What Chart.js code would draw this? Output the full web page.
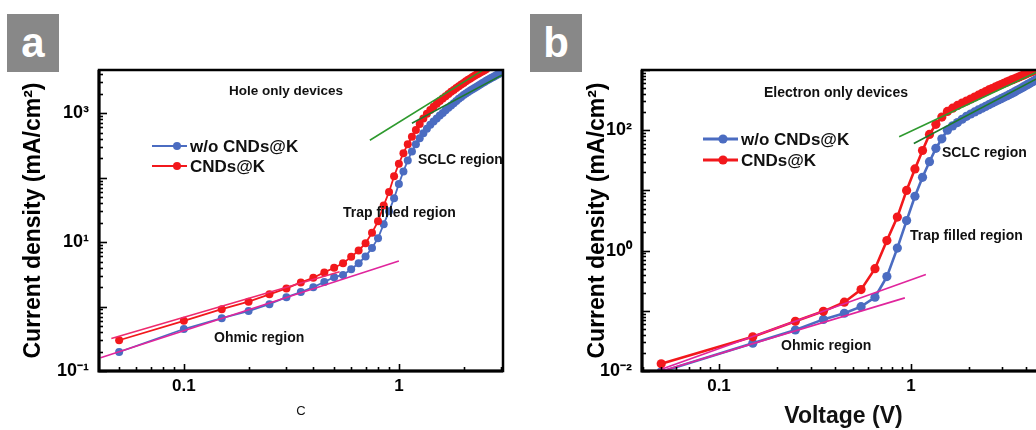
<!DOCTYPE html>
<html><head><meta charset="utf-8">
<script src="https://cdn.jsdelivr.net/npm/chart.js@4.4.1/dist/chart.umd.min.js"></script>
<style>
html,body{margin:0;padding:0;background:#fff;overflow:hidden;width:1036px;height:430px;position:relative;}
#wrapA{position:absolute;left:0;top:0;width:516px;height:430px;}
#wrapB{position:absolute;left:516px;top:0;width:520px;height:430px;overflow:hidden;}
.tag{position:absolute;top:14px;width:52px;height:58px;background:#888888;color:#fff;font:bold 42px "Liberation Sans",Arial,sans-serif;display:flex;align-items:center;justify-content:center;line-height:1;z-index:2;}
</style></head>
<body>
<div id="wrapA"><canvas id="ca" width="516" height="430"></canvas></div>
<div id="wrapB"><canvas id="cb" width="544" height="430"></canvas></div>
<div class="tag" style="left:7px;">a</div>
<div class="tag" style="left:530px;">b</div>
<script>
// ---------- Panel a : Hole only devices ----------
const voltsA = [0.05,0.10,0.15,0.20,0.25,0.30,0.35,0.40,0.45,0.50,0.55,0.60,0.65,0.70,0.75,0.80,0.85,0.90,0.95,1.00,
  1.05,1.10,1.15,1.20,1.25,1.30,1.35,1.40,1.45,1.50,1.55,1.60,1.65,1.70,1.75,1.80,1.85,1.90,1.95,2.00,
  2.05,2.10,2.15,2.20,2.25,2.30,2.35,2.40,2.45,2.50,2.55,2.60,2.65,2.70,2.75,2.80,2.85,2.90,2.95,3.00];
const woA = [0.197,0.448,0.66,0.85,1.09,1.40,1.68,2.0,2.4,2.86,3.1,3.8,4.7,6.0,8.1,11.5,19,30,48,80,
  125,185,255,330,410,490,575,660,745,830,920,1010,1110,1210,1320,1430,1550,1670,1790,1920,
  2030,2140,2250,2360,2470,2580,2700,2820,2940,3060,3180,3300,3420,3540,3660,3780,3900,4020,4140,4260];
const kA = [0.30,0.60,0.91,1.19,1.55,1.91,2.37,2.80,3.39,4.0,4.7,5.9,7.4,9.6,14,21,37,60,105,165,
  240,330,430,550,680,830,980,1120,1260,1400,1540,1690,1840,1990,2150,2300,2460,2620,2790,2950,
  3120,3290,3460,3630,3800,3970,4140,4310,4480,4650,4830];
const ohmWoA_x = [0.041, 1.0],  ohmWoA_y = [0.16, 5.1];
const ohmKA_x  = [0.046, 0.53], ohmKA_y  = [0.32, 3.47];
const sclcKA_x = [0.733, 2.46], sclcKA_y = [380, 4650];
const sclcWoA_x= [1.15, 3.01],  sclcWoA_y= [700, 3900];
const xTickValsA = [0.1, 1], xTickLabA = ['0.1', '1'];
const yTickValsA = [0.1, 1, 10, 100, 1000], yTickLabA = ['10\u207B\u00B9', '', '10\u00B9', '', '10\u00B3'];

// ---------- Panel b : Electron only devices ----------
const voltsB = [0.05,0.15,0.25,0.35,0.45,0.55,0.65,0.75,0.85,0.95,1.05,1.15,1.25,1.35,1.45,1.55,1.65,1.75,1.85,1.95,
  2.05,2.15,2.25,2.35,2.45,2.55,2.65,2.75,2.85,2.95,3.05,3.15,3.25,3.35,3.45,3.55,3.65,3.75,3.85,3.95,
  4.05,4.15,4.25,4.35,4.45,4.55,4.65,4.75,4.85,4.95];
const woB = [0.0097,0.029,0.048,0.072,0.091,0.117,0.168,0.37,1.1,3.15,8,16.5,30,50,72,100,118,134,152,170,
  186,201,217,232,248,265,282,299,316,334,352,370,389,408,428,451,474,497,521,546,
  571,597,623,650,677,704,732,760,788,817];
const kB = [0.0132,0.037,0.067,0.098,0.139,0.225,0.50,1.47,3.6,10,22.7,46,85,125,165,205,232,258,283,305,
  330,356,382,410,437,466,493,519,545,572,600,627,655,683,708,736,764,792,821,850,
  879,909,938,968,998,1028,1058,1088,1118,1150];
const ohmKB_x  = [0.0464, 1.197], ohmKB_y  = [0.0098, 0.40];
const ohmWoB_x = [0.0464, 0.93],  ohmWoB_y = [0.0092, 0.164];
const sclcKB_x = [0.869, 5.0],    sclcKB_y = [78, 1070];
const sclcWoB_x= [1.036, 5.0],    sclcWoB_y= [60, 844];
const xTickValsB = [0.1, 1], xTickLabB = ['0.1', '1'];
const yTickValsB = [0.01, 0.1, 1, 10, 100], yTickLabB = ['10\u207B\u00B2', '', '10\u2070', '', '10\u00B2'];

const BLUE = '#4b6cc1', RED = '#f2181c', MAG = '#e0259c', MAG2 = '#ee2a6e', GRN1 = '#2e9a2e', GRN2 = '#1d7a2a';
const FONT = '"Liberation Sans", Arial, Helvetica, sans-serif';
Chart.defaults.font.family = FONT;
Chart.defaults.color = '#000';

const pts = (xs, ys) => ys.map((y, i) => ({x: xs[i], y: y}));

function logTicks(min, max) {
  const out = [];
  for (let k = Math.floor(Math.log10(min)) - 1; k <= Math.ceil(Math.log10(max)); k++) {
    for (let n = 1; n <= 9; n++) {
      const v = Number((n * Math.pow(10, k)).toPrecision(6));
      if (v >= min * 0.9999 && v <= max * 1.0001) out.push({v, major: n === 1});
    }
  }
  return out;
}

const framePlugin = {
  id: 'frame',
  afterDraw(chart, args, o) {
    const {ctx, chartArea: a, scales: {x, y}} = chart;
    ctx.save();
    ctx.save();
    ctx.beginPath(); ctx.rect(a.left, a.top, a.right - a.left, a.bottom - a.top); ctx.clip();
    ctx.fillStyle = '#111';
    ctx.textBaseline = 'middle';
    (o.texts || []).forEach(t => {
      ctx.font = 'bold ' + t.size + 'px ' + FONT;
      ctx.textAlign = t.align || 'left';
      ctx.fillText(t.text, t.x, t.y);
    });
    (o.legend || []).forEach(l => {
      ctx.strokeStyle = l.color; ctx.lineWidth = l.lw;
      ctx.beginPath(); ctx.moveTo(l.x0, l.y); ctx.lineTo(l.x1, l.y); ctx.stroke();
      ctx.fillStyle = l.color;
      ctx.beginPath(); ctx.arc(l.xm, l.y, l.r, 0, Math.PI * 2); ctx.fill();
      ctx.fillStyle = '#111';
      ctx.font = 'bold 17px ' + FONT;
      ctx.textAlign = 'left';
      ctx.fillText(l.label, l.x1 + 3, l.y + 1);
    });
    ctx.restore();
    ctx.strokeStyle = '#000'; ctx.lineWidth = 1.6;
    logTicks(x.min, x.max).forEach(t => {
      const p = Math.round(x.getPixelForValue(t.v)) + 0.5;
      ctx.beginPath(); ctx.moveTo(p, a.bottom); ctx.lineTo(p, a.bottom - (t.major ? 7 : 4)); ctx.stroke();
    });
    logTicks(y.min, y.max).forEach(t => {
      const p = Math.round(y.getPixelForValue(t.v)) + 0.5;
      ctx.beginPath(); ctx.moveTo(a.left, p); ctx.lineTo(a.left + (t.major ? 8 : 4), p); ctx.stroke();
    });
    ctx.lineWidth = 2.5;
    ctx.strokeRect(a.left, a.top, a.right - a.left, a.bottom - a.top);
    ctx.lineWidth = 3;
    ctx.beginPath(); ctx.moveTo(a.left, a.top); ctx.lineTo(a.left, a.bottom); ctx.lineTo(a.right, a.bottom); ctx.stroke();
    ctx.restore();
  }
};

function makeChart(id, cfg) {
  const dataDs = (xs, ys, color, r, lw, order) => ({
    data: pts(xs, ys), borderColor: color, backgroundColor: color, pointBackgroundColor: color,
    pointBorderColor: color, pointRadius: r, pointBorderWidth: 0, borderWidth: lw, order: order, tension: 0
  });
  const fitDs = (xs, ys, color, lw) => ({
    data: pts(xs, ys), borderColor: color, backgroundColor: color, pointRadius: 0, borderWidth: lw, order: 1, tension: 0
  });
  return new Chart(document.getElementById(id), {
    type: 'line',
    data: {
      datasets: [
        dataDs(cfg.volts, cfg.wo, BLUE, cfg.r, cfg.lw, 3),
        dataDs(cfg.volts, cfg.k, RED, cfg.r, cfg.lw, 2),
        fitDs(cfg.ohmWo[0], cfg.ohmWo[1], MAG, 1.6),
        fitDs(cfg.ohmK[0], cfg.ohmK[1], cfg.ohmKColor, 1.6),
        fitDs(cfg.sclcK[0], cfg.sclcK[1], GRN1, 1.6),
        fitDs(cfg.sclcWo[0], cfg.sclcWo[1], GRN2, 1.6)
      ]
    },
    options: {
      responsive: false, animation: false, devicePixelRatio: 1,
      layout: {padding: {left: 0, top: 70, right: cfg.padRight, bottom: 0}},
      plugins: {legend: {display: false}, tooltip: {enabled: false},
        frame: {texts: cfg.texts, legend: cfg.legend}},
      scales: {
        x: {
          type: 'logarithmic', min: cfg.xmin, max: cfg.xmax,
          grid: {display: false, drawTicks: false}, border: {display: false},
          afterFit: s => { s.height = 59; },
          afterBuildTicks: s => { s.ticks = cfg.xTickVals.map(v => ({value: v})); },
          ticks: {autoSkip: false, maxRotation: 0, padding: 5, font: {size: 17, weight: 'bold'},
            callback: (v, i) => cfg.xTickLab[i]},
          title: {display: true, text: cfg.xTitle, font: cfg.xTitleFont, padding: cfg.xTitlePad, color: '#111'}
        },
        y: {
          type: 'logarithmic', min: cfg.ymin, max: cfg.ymax,
          grid: {display: false, drawTicks: false}, border: {display: false},
          afterFit: s => { s.width = cfg.yWidth; },
          afterBuildTicks: s => { s.ticks = cfg.yTickVals.map(v => ({value: v})); },
          ticks: {autoSkip: false, padding: 10, font: {size: 18, weight: 'bold'},
            callback: (v, i) => cfg.yTickLab[i]},
          title: {display: true, text: 'Current density (mA/cm\u00B2)', font: {size: 23, weight: 'bold'},
            padding: {top: cfg.yTitlePad, bottom: 0}, color: '#000'}
        }
      }
    },
    plugins: [framePlugin]
  });
}

makeChart('ca', {
  volts: voltsA, wo: woA, k: kA, r: 4, lw: 1.8,
  ohmWo: [ohmWoA_x, ohmWoA_y], ohmK: [ohmKA_x, ohmKA_y], ohmKColor: MAG2,
  sclcK: [sclcKA_x, sclcKA_y], sclcWo: [sclcWoA_x, sclcWoA_y],
  xmin: 0.0403, xmax: 3.05, ymin: 0.1, ymax: 4680, padRight: 13, yWidth: 99, yTitlePad: 20,
  xTickVals: xTickValsA, xTickLab: xTickLabA, yTickVals: yTickValsA, yTickLab: yTickLabA,
  xTitle: 'C', xTitleFont: {size: 13, weight: 'normal'}, xTitlePad: {top: 0, bottom: 11},
  texts: [
    {text: 'Hole only devices', x: 286, y: 91, size: 13.5, align: 'center'},
    {text: 'SCLC region', x: 418, y: 160, size: 14},
    {text: 'Trap filled region', x: 343, y: 213, size: 14},
    {text: 'Ohmic region', x: 214, y: 338, size: 14}
  ],
  legend: [
    {label: 'w/o CNDs@K', color: BLUE, x0: 152, x1: 187, xm: 177, y: 146, r: 4, lw: 2},
    {label: 'CNDs@K', color: RED, x0: 152, x1: 187, xm: 177, y: 166, r: 4, lw: 2}
  ]
});

makeChart('cb', {
  volts: voltsB, wo: woB, k: kB, r: 4.6, lw: 2.6,
  ohmWo: [ohmWoB_x, ohmWoB_y], ohmK: [ohmKB_x, ohmKB_y], ohmKColor: MAG,
  sclcK: [sclcKB_x, sclcKB_y], sclcWo: [sclcWoB_x, sclcWoB_y],
  xmin: 0.0397, xmax: 5.0, ymin: 0.01, ymax: 1000, padRight: 15, yWidth: 126, yTitlePad: 68,
  xTickVals: xTickValsB, xTickLab: xTickLabB, yTickVals: yTickValsB, yTickLab: yTickLabB,
  xTitle: 'Voltage (V)', xTitleFont: {size: 23, weight: 'bold', lineHeight: 1.2}, xTitlePad: {top: 0, bottom: 0},
  texts: [
    {text: 'Electron only devices', x: 320, y: 93, size: 14, align: 'center'},
    {text: 'SCLC region', x: 426, y: 153, size: 14},
    {text: 'Trap filled region', x: 394, y: 236, size: 14},
    {text: 'Ohmic region', x: 265, y: 346, size: 14}
  ],
  legend: [
    {label: 'w/o CNDs@K', color: BLUE, x0: 187, x1: 222, xm: 207, y: 139, r: 4.6, lw: 3},
    {label: 'CNDs@K', color: RED, x0: 187, x1: 222, xm: 207, y: 160, r: 4.6, lw: 3}
  ]
});
</script>
</body></html>
